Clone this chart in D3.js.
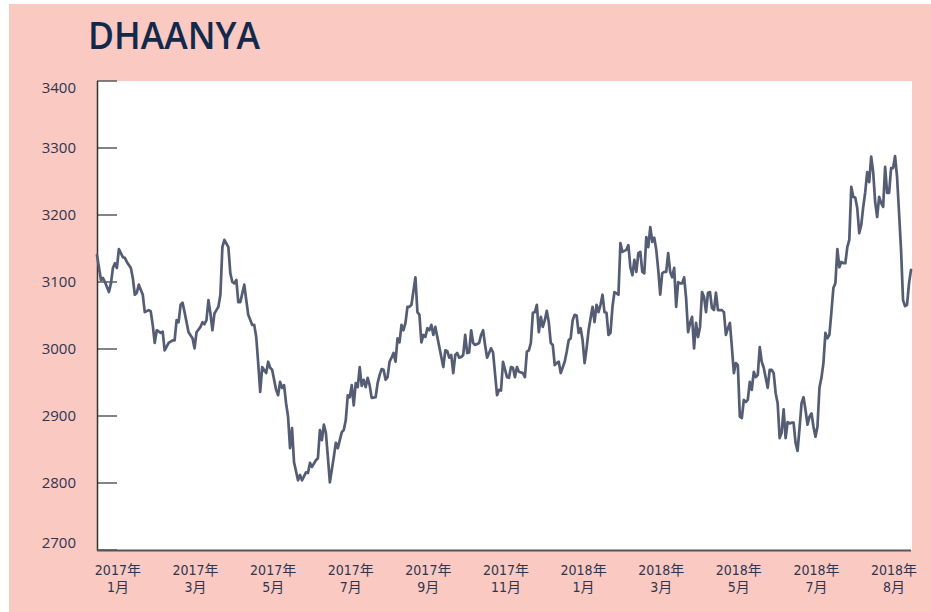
<!DOCTYPE html>
<html>
<head>
<meta charset="utf-8">
<script src="https://cdn.jsdelivr.net/npm/d3@7"></script>
<style>
  html, body { margin: 0; padding: 0; background: #ffffff; }
</style>
</head>
<body>
<div id="chart"></div>
<script>
// Title
var chartTitle = 'DHAANYA';

// y axis ticks
var yTicks = [2700, 2800, 2900, 3000, 3100, 3200, 3300, 3400];

// x axis labels (trading-day index where each label sits)
var xTickDays = [10.5, 49.5, 88.5, 127.5, 166.5, 205.5, 244.5, 283.5, 322.5, 361.5, 400.5];
var xTickYears = ['2017年', '2017年', '2017年', '2017年', '2017年', '2017年', '2018年', '2018年', '2018年', '2018年', '2018年'];
var xTickMonths = ['1月', '3月', '5月', '7月', '9月', '11月', '1月', '3月', '5月', '7月', '8月'];

// series: [trading day index, price]
var priceSeries = [
  [0,3140],[2,3103],[3,3106],[4,3100],[6,3085],[7,3098],[8,3121],[9,3128],[10,3121],[11,3149],
  [13,3137],[14,3136],[15,3130],[17,3121],[18,3106],[19,3081],[20,3084],[21,3096],[23,3081],[24,3055],
  [26,3058],[27,3056],[28,3036],[29,3009],[30,3028],[32,3024],[33,3026],[34,2998],[36,3009],[38,3013],
  [39,3013],[40,3043],[41,3040],[42,3066],[43,3069],[44,3055],[46,3025],[48,3016],[49,3001],[50,3025],
  [52,3033],[53,3040],[54,3037],[55,3043],[56,3073],[57,3053],[58,3028],[59,3053],[60,3058],[61,3063],
  [62,3081],[63,3152],[64,3163],[66,3152],[67,3113],[68,3100],[69,3098],[70,3103],[71,3070],[72,3070],
  [74,3096],[75,3073],[76,3051],[78,3036],[79,3036],[80,3018],[81,2979],[82,2936],[83,2973],[85,2964],
  [86,2981],[87,2972],[88,2969],[90,2939],[91,2931],[92,2951],[93,2942],[94,2946],[95,2919],[96,2899],
  [97,2852],[98,2882],[99,2831],[101,2804],[102,2812],[103,2804],[105,2816],[106,2815],[107,2830],[108,2824],
  [110,2834],[111,2837],[112,2879],[113,2864],[114,2887],[115,2875],[116,2839],[117,2801],[119,2839],[120,2860],
  [121,2852],[123,2876],[124,2879],[125,2894],[126,2931],[127,2928],[128,2946],[129,2916],[130,2949],[131,2943],
  [132,2973],[133,2945],[134,2954],[135,2943],[136,2957],[137,2946],[138,2927],[140,2928],[141,2949],[142,2961],
  [143,2970],[144,2969],[145,2954],[146,2958],[147,2981],[148,2987],[149,2994],[150,2981],[151,3016],[152,3010],
  [153,3036],[154,3028],[155,3039],[156,3063],[157,3063],[158,3066],[160,3107],[161,3055],[162,3051],[163,3010],
  [164,3021],[165,3018],[166,3031],[167,3028],[168,3036],[169,3021],[170,3033],[171,3018],[172,3003],[174,2973],
  [175,2998],[176,2997],[177,2987],[178,2991],[179,2964],[180,2991],[181,2994],[182,2987],[183,2988],[184,2991],
  [185,3021],[186,2994],[187,2995],[188,3028],[189,3009],[190,3006],[192,3009],[193,3021],[194,3028],[195,3006],
  [196,2987],[197,2994],[198,3001],[199,2995],[201,2931],[202,2939],[203,2938],[204,2981],[206,2958],[207,2957],
  [208,2973],[209,2972],[210,2958],[211,2973],[212,2966],[214,2964],[215,2958],[216,2996],[217,2998],[218,3009],
  [219,3054],[220,3055],[221,3066],[222,3025],[223,3048],[224,3033],[225,3043],[226,3057],[227,3040],[228,3009],
  [229,3006],[230,2976],[231,2979],[232,2981],[233,2964],[235,2981],[236,2996],[237,3013],[238,3016],[239,3043],
  [240,3051],[241,3050],[242,3024],[243,3031],[244,3013],[245,2979],[246,3001],[247,3028],[248,3046],[249,3063],
  [250,3040],[251,3066],[252,3055],[253,3066],[254,3081],[255,3055],[256,3054],[257,3021],[258,3024],[259,3063],
  [260,3085],[262,3081],[263,3158],[264,3145],[266,3148],[267,3155],[268,3122],[269,3110],[270,3133],[271,3115],
  [272,3143],[273,3145],[274,3115],[275,3113],[276,3167],[277,3152],[278,3182],[279,3160],[280,3166],[281,3148],
  [282,3118],[283,3081],[284,3113],[285,3115],[286,3115],[287,3143],[288,3115],[289,3107],[290,3121],[291,3063],
  [292,3100],[293,3098],[294,3098],[295,3107],[296,3076],[297,3025],[298,3039],[299,3048],[300,3001],[301,3039],
  [302,3018],[303,3033],[304,3085],[305,3078],[306,3055],[307,3084],[308,3085],[309,3061],[310,3058],[311,3084],
  [312,3058],[314,3058],[315,3055],[316,3021],[317,3031],[318,3039],[319,3003],[320,2964],[321,2979],[322,2976],
  [323,2899],[324,2897],[325,2924],[326,2921],[327,2924],[328,2951],[329,2939],[330,2966],[331,2958],[332,2961],
  [333,3003],[334,2981],[335,2972],[337,2942],[338,2969],[339,2969],[340,2964],[341,2934],[342,2919],[343,2867],
  [344,2875],[345,2910],[346,2867],[347,2891],[348,2889],[349,2890],[350,2890],[351,2860],[352,2848],[353,2882],
  [354,2919],[355,2928],[356,2909],[357,2887],[358,2899],[359,2904],[360,2884],[361,2869],[362,2884],[363,2942],
  [364,2957],[365,2979],[366,3024],[367,3016],[368,3021],[369,3055],[370,3091],[371,3098],[372,3149],[373,3122],
  [374,3130],[375,3128],[376,3128],[377,3152],[378,3163],[379,3242],[380,3227],[381,3226],[382,3210],[383,3173],
  [384,3185],[385,3212],[386,3234],[387,3264],[388,3249],[389,3287],[390,3264],[391,3219],[392,3197],[393,3227],
  [394,3218],[395,3212],[396,3272],[397,3233],[398,3233],[399,3270],[400,3270],[401,3288],[402,3257],[403,3203],
  [404,3148],[405,3073],[406,3064],[407,3066],[408,3098],[409,3118]
];

function Chart() {
  // Exposed variables
  var attrs = {
    svgWidth: 931,
    svgHeight: 612,
    container: '#chart',
    bgColor: '#f9c9c2',
    plotLeft: 97,
    plotRight: 912,
    plotTop: 81,
    plotBottom: 550,
    lineColor: '#555d74',
    textColor: '#2f3550',
    titleColor: '#13294b',
    defaultFont: '"Open Sans", "Noto Sans", sans-serif',
    tickFont: '"Liberation Sans Narrow", "DejaVu Sans Condensed", "Noto Sans CJK SC", sans-serif'
  };

  var main = function() {
    var container = d3.select(attrs.container);

    var svg = container.append('svg')
      .attr('width', attrs.svgWidth)
      .attr('height', attrs.svgHeight)
      .attr('font-family', attrs.defaultFont);

    // pink card
    svg.append('rect')
      .attr('x', 9).attr('y', 4)
      .attr('width', attrs.svgWidth - 9)
      .attr('height', attrs.svgHeight - 4)
      .attr('fill', attrs.bgColor);

    // white plot area
    svg.append('rect')
      .attr('x', attrs.plotLeft).attr('y', attrs.plotTop)
      .attr('width', attrs.plotRight - attrs.plotLeft)
      .attr('height', attrs.plotBottom - attrs.plotTop)
      .attr('fill', '#ffffff');

    // title
    svg.append('text')
      .attr('x', 88).attr('y', 49)
      .attr('font-size', 38)
      .attr('font-weight', 600)
      .attr('textLength', 172)
      .attr('lengthAdjust', 'spacingAndGlyphs')
      .attr('fill', attrs.titleColor)
      .text(chartTitle);

    // scales
    var x = d3.scaleLinear()
      .domain([0, 409])
      .range([attrs.plotLeft, attrs.plotRight - 1]);

    var y = d3.scaleLinear()
      .domain([2700, 3400])
      .range([attrs.plotBottom, attrs.plotTop]);

    // y ticks (pointing into the plot)
    var yAxis = svg.append('g').attr('class', 'y-axis');

    yAxis.selectAll('line.tick')
      .data(yTicks)
      .enter().append('line')
      .attr('class', 'tick')
      .attr('x1', attrs.plotLeft).attr('x2', attrs.plotLeft + 20)
      .attr('y1', d => y(d)).attr('y2', d => y(d))
      .attr('stroke', '#5a5a5a')
      .attr('stroke-width', 1.5);

    yAxis.selectAll('text')
      .data(yTicks)
      .enter().append('text')
      .attr('x', 76)
      .attr('y', d => Math.max(88, Math.min(543, y(d))))
      .attr('dy', '0.35em')
      .attr('text-anchor', 'end')
      .attr('font-size', 15)
      .attr('fill', attrs.textColor)
      .text(d => d);

    yAxis.append('line')
      .attr('x1', attrs.plotLeft + 0.5).attr('x2', attrs.plotLeft + 0.5)
      .attr('y1', attrs.plotTop).attr('y2', attrs.plotBottom + 1)
      .attr('stroke', '#333333')
      .attr('stroke-width', 1.5);

    // bottom axis line
    svg.append('line')
      .attr('x1', attrs.plotLeft).attr('x2', attrs.plotRight - 1)
      .attr('y1', attrs.plotBottom + 0.5).attr('y2', attrs.plotBottom + 0.5)
      .attr('stroke', '#555555')
      .attr('stroke-width', 2);

    // x labels, two lines each
    var xLabels = svg.append('g').attr('class', 'x-labels')
      .selectAll('text')
      .data(xTickDays)
      .enter().append('text')
      .attr('text-anchor', 'middle')
      .attr('font-family', attrs.tickFont)
      .attr('font-size', 14)
      .attr('fill', attrs.textColor);

    xLabels.append('tspan')
      .attr('x', d => x(d))
      .attr('y', 575)
      .text((d, i) => xTickYears[i]);

    xLabels.append('tspan')
      .attr('x', d => x(d))
      .attr('y', 592)
      .text((d, i) => xTickMonths[i]);

    // price line
    var line = d3.line()
      .x(d => x(d[0]))
      .y(d => y(d[1]));

    svg.append('path')
      .datum(priceSeries)
      .attr('d', line)
      .attr('fill', 'none')
      .attr('stroke', attrs.lineColor)
      .attr('stroke-width', 2.7)
      .attr('stroke-linejoin', 'round')
      .attr('stroke-linecap', 'round');
  };

  main.render = function() {
    main();
    return main;
  };

  return main;
}

Chart().render();
</script>
</body>
</html>
